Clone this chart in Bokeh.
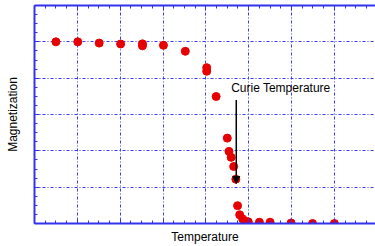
from bokeh.plotting import figure
from bokeh.models import (LinearAxis, FixedTicker, Arrow, NormalHead, Label,
                          Range1d, CustomJSTickFormatter)
from bokeh.embed import file_html
from bokeh.resources import INLINE

# ---- data ----
temperature = [0.50, 1.01, 1.51, 2.01, 2.52, 2.52, 3.01, 3.52, 4.02, 4.02,
               4.24, 4.50, 4.54, 4.59, 4.65, 4.70, 4.74, 4.79, 4.86, 4.93,
               4.99, 5.25, 5.50, 5.99, 6.49, 7.00]
magnetization = [1.000, 1.000, 0.993, 0.988, 0.989, 0.978, 0.981, 0.948, 0.858, 0.838,
                 0.699, 0.470, 0.397, 0.364, 0.314, 0.244, 0.098, 0.048, 0.025, 0.012,
                 0.009, 0.007, 0.007, 0.003, 0.000, 0.000]

x_major = [0, 1, 2, 3, 4, 5, 6, 7, 8]
y_major = [0.0, 0.2, 0.4, 0.6, 0.8, 1.0, 1.2]

curie_label = "Curie Temperature"
curie_x = 4.71
curie_arrow_top = 0.68
curie_arrow_bottom = 0.22
curie_text_x = 4.59
curie_text_y = 0.745

x_label = "Temperature"
y_label = "Magnetization"

# ---- styling ----
BLUE = "#3333ee"
GRID = "#3c3cf0"
RED = "#e60000"
FONT = "Liberation Sans"

x_minor = [i * 0.25 for i in range(0, 33)]
y_minor = [i * 0.05 for i in range(0, 25)]

p = figure(width=375, height=246, output_backend="svg", toolbar_location=None,
           x_range=Range1d(0, 7.96), y_range=Range1d(0, 1.2),
           x_axis_location=None, y_axis_location=None,
           min_border_left=34, min_border_top=5, min_border_right=0,
           min_border_bottom=22)
p.outline_line_color = None
p.background_fill_color = "white"
p.border_fill_color = "white"

xt = FixedTicker(ticks=x_major, minor_ticks=x_minor)
yt = FixedTicker(ticks=y_major, minor_ticks=y_minor)
blank = CustomJSTickFormatter(code="return ''")


def style_axis(ax, ticker, label=None):
    ax.ticker = ticker
    ax.formatter = blank
    ax.axis_line_color = BLUE
    ax.axis_line_width = 2
    ax.major_tick_line_color = BLUE
    ax.minor_tick_line_color = BLUE
    ax.major_tick_in = 5
    ax.major_tick_out = 0
    ax.minor_tick_in = 3
    ax.minor_tick_out = 0
    ax.major_label_standoff = 0
    ax.major_label_text_font_size = "1px"
    if label:
        ax.axis_label = label
        ax.axis_label_text_font = FONT
        ax.axis_label_text_font_size = "12px"
        ax.axis_label_text_font_style = "normal"
        ax.axis_label_text_color = "black"


bottom = LinearAxis()
style_axis(bottom, xt, x_label)
bottom.axis_label_standoff = 6
top = LinearAxis()
style_axis(top, xt)
left = LinearAxis()
style_axis(left, yt, y_label)
left.axis_label_standoff = 15

p.add_layout(bottom, "below")
p.add_layout(top, "above")
p.add_layout(left, "left")

p.xgrid.ticker = xt
p.ygrid.ticker = yt
for g in (p.xgrid, p.ygrid):
    g.grid_line_color = GRID
    g.grid_line_width = 1
    g.grid_line_dash = "3 2 1 2"

p.scatter(temperature, magnetization, size=8, color=RED, line_color=RED)

p.add_layout(Arrow(end=NormalHead(size=7, fill_color="black", line_color="black"),
                   x_start=curie_x, y_start=curie_arrow_top,
                   x_end=curie_x, y_end=curie_arrow_bottom,
                   line_color="black", line_width=1.5))
p.add_layout(Label(x=curie_text_x, y=curie_text_y, text=curie_label,
                   text_font=FONT, text_font_size="12px", text_color="black",
                   text_baseline="middle", text_align="left"))

open("out.html", "w").write(file_html(p, INLINE))
